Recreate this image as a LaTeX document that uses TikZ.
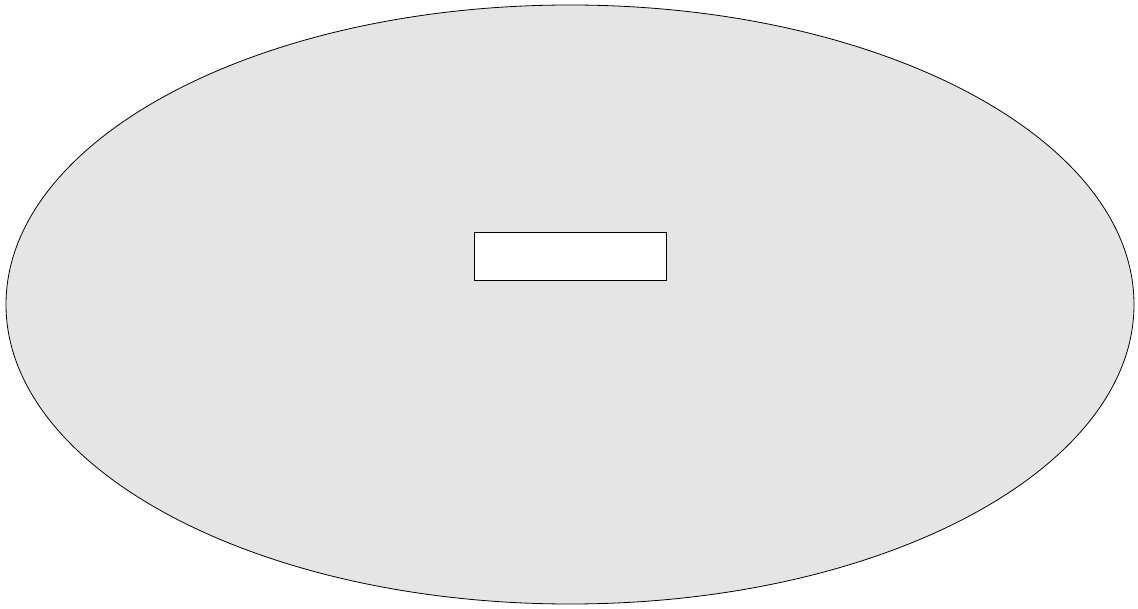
\documentclass[tikz,border=0pt]{standalone}
\usetikzlibrary{shapes.geometric}
\definecolor{ellfill}{HTML}{E5E5E5}
\begin{document}
\begin{tikzpicture}[x=1pt,y=-1pt,
  outer/.style={ellipse,draw=black,fill=ellfill,line width=0.8pt,minimum width=1128pt,minimum height=599pt,inner sep=0pt},
  inner/.style={rectangle,draw=black,fill=white,line width=0.8pt,minimum width=192pt,minimum height=48pt,inner sep=0pt}]
\useasboundingbox (0,0) rectangle (1138,609);
\node[outer] (cloud) at (570,304.5) {};
\node[inner] (box) at (570,256.5) {};
\end{tikzpicture}
\end{document}
